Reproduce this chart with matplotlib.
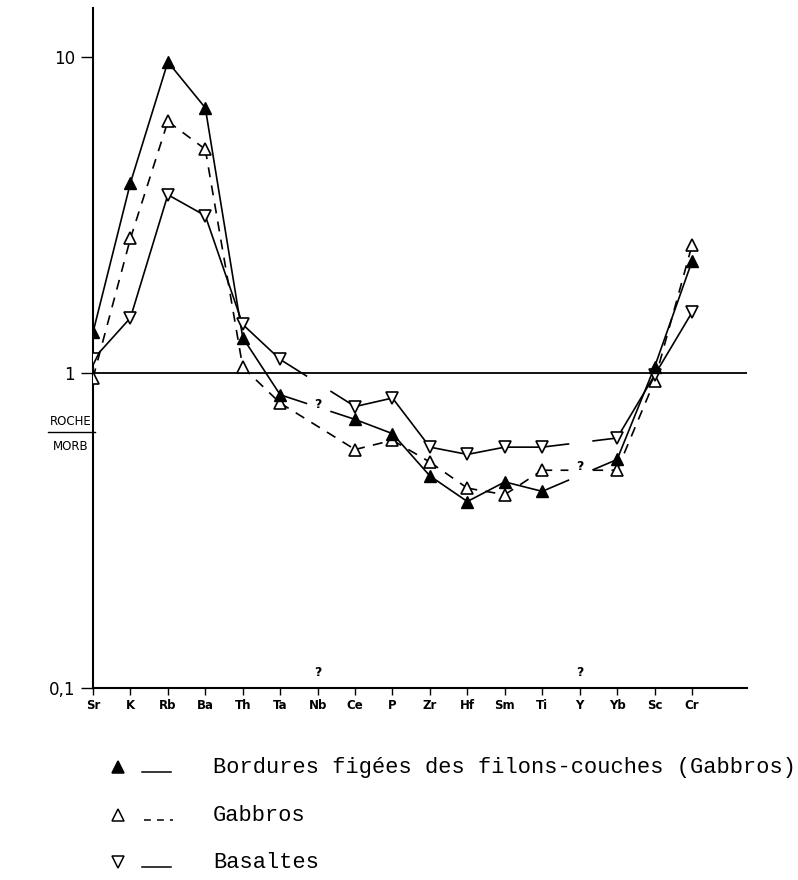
import numpy as np
import matplotlib
matplotlib.use('Agg')
import matplotlib.pyplot as plt
from matplotlib.lines import Line2D

nan = np.nan
elements = ['Sr', 'K', 'Rb', 'Ba', 'Th', 'Ta', 'Nb', 'Ce', 'P', 'Zr', 'Hf',
            'Sm', 'Ti', 'Y', 'Yb', 'Sc', 'Cr']
bordures = [1.34, 3.99, 9.65, 6.9, 1.29, 0.85, nan, 0.71, 0.64, 0.47, 0.39,
            0.45, 0.42, nan, 0.53, 1.04, 2.25]
gabbros = [0.96, 2.66, 6.25, 5.1, 1.04, 0.80, nan, 0.57, 0.61, 0.52, 0.43,
           0.41, 0.49, nan, 0.49, 0.94, 2.53]
basaltes = [1.10, 1.49, 3.66, 3.14, 1.42, 1.10, nan, 0.78, 0.83, 0.58, 0.55,
            0.58, 0.58, nan, 0.62, 0.98, 1.55]
ytick_vals = [0.1, 1, 10]
ytick_labels = ['0,1', '1', '10']
legend_labels = ['Bordures figées des filons-couches (Gabbros)', 'Gabbros', 'Basaltes']

fig = plt.figure(figsize=(7.98, 8.80), dpi=100)
ax = fig.add_axes([93 / 798, 1 - 688 / 880, (747 - 93) / 798, (688 - 8) / 880])
ax.set_yscale('log')
x = np.arange(len(elements))
ax.set_xlim(0, 17.47)
ax.set_ylim(0.1, 14.3)


def broken_path(xs, ys, gap_at=(), gap=(0.35, 0.68)):
    """Join valid points; segments bridging a missing element are interrupted."""
    px, py = [], []
    valid = [i for i in range(len(ys)) if not np.isnan(ys[i])]
    for a, b in zip(valid[:-1], valid[1:]):
        x0, x1 = xs[a], xs[b]
        l0, l1 = np.log10(ys[a]), np.log10(ys[b])
        if b - a > 1 and any(a < g < b for g in gap_at):
            for t0, t1 in ((0, gap[0]), (gap[1], 1)):
                px += [x0 + (x1 - x0) * t0, x0 + (x1 - x0) * t1, nan]
                py += [10 ** (l0 + (l1 - l0) * t0), 10 ** (l0 + (l1 - l0) * t1), nan]
        else:
            px += [x0, x1, nan]
            py += [ys[a], ys[b], nan]
    return px, py


lw = 1.2
# Bordures figées: solid, filled up-triangles
px, py = broken_path(x, bordures, gap_at=(6, 13))
ax.plot(px, py, color='black', lw=lw, zorder=2)
ax.plot(x, bordures, ls='none', marker='^', ms=9, mfc='black', mec='black', zorder=4)
# Gabbros: dashed, open up-triangles
px, py = broken_path(x, gabbros, gap_at=(13,))
ax.plot(px, py, color='black', lw=lw, dashes=(6, 5), zorder=2)
ax.plot(x, gabbros, ls='none', marker='^', ms=9, mfc='white', mec='black', mew=1.2, zorder=3)
# Basaltes: solid, open down-triangles
px, py = broken_path(x, basaltes, gap_at=(6, 13))
ax.plot(px, py, color='black', lw=lw, zorder=2)
ax.plot(x, basaltes, ls='none', marker='v', ms=9, mfc='white', mec='black', mew=1.2, zorder=3)

# reference line at 1
ax.axhline(1, color='black', lw=1.3, zorder=1)

# question marks
ax.text(6, 0.79, '?', ha='center', va='center', fontsize=9, fontweight='bold')
ax.text(13, 0.505, '?', ha='center', va='center', fontsize=9, fontweight='bold')
for i in (6, 13):
    ax.text(i, 0.112, '?', ha='center', va='center', fontsize=9, fontweight='bold')

# axes styling
for s in ('top', 'right'):
    ax.spines[s].set_visible(False)
ax.spines['left'].set_linewidth(1.5)
ax.spines['bottom'].set_linewidth(1.5)
ax.set_xticks(x)
ax.set_xticklabels(elements, fontsize=8.5, fontweight='bold')
ax.tick_params(axis='x', direction='out', length=5, width=1, pad=3)
ax.set_yticks(ytick_vals)
ax.set_yticklabels(ytick_labels, fontsize=12)
ax.yaxis.set_minor_locator(matplotlib.ticker.NullLocator())
ax.tick_params(axis='y', direction='out', length=9, width=1, pad=4)

# y label as a fraction
fig.text(71 / 798, 1 - 421 / 880, 'ROCHE', ha='center', va='center', fontsize=8.5)
fig.add_artist(Line2D([48 / 798, 95 / 798], [1 - 432 / 880, 1 - 432 / 880],
                      transform=fig.transFigure, color='black', lw=1))
fig.text(71 / 798, 1 - 446 / 880, 'MORB', ha='center', va='center', fontsize=8.5)

# legend
rows_y = [767, 815, 862]
markers = [('^', 'black'), ('^', 'white'), ('v', 'white')]
styles = ['-', '--', '-']
for yy, (mk, fc), st, lab in zip(rows_y, markers, styles, legend_labels):
    yf = 1 - yy / 880
    fig.add_artist(Line2D([118 / 798], [yf], transform=fig.transFigure, marker=mk,
                          ms=9, mfc=fc, mec='black', mew=1.1, ls='none'))
    yl = 1 - (yy + 5) / 880
    if st == '-':
        fig.add_artist(Line2D([142 / 798, 171 / 798], [yl, yl], transform=fig.transFigure,
                              color='black', lw=1.1))
    else:
        fig.add_artist(Line2D([144 / 798, 173 / 798], [yl, yl], transform=fig.transFigure,
                              color='black', lw=1.1, dashes=(4.5, 4)))
    fig.text(213 / 798, yf, lab, ha='left', va='center', fontsize=15.8,
             family=['Liberation Mono', 'DejaVu Sans Mono'])

fig.savefig('out.png', dpi=100)
